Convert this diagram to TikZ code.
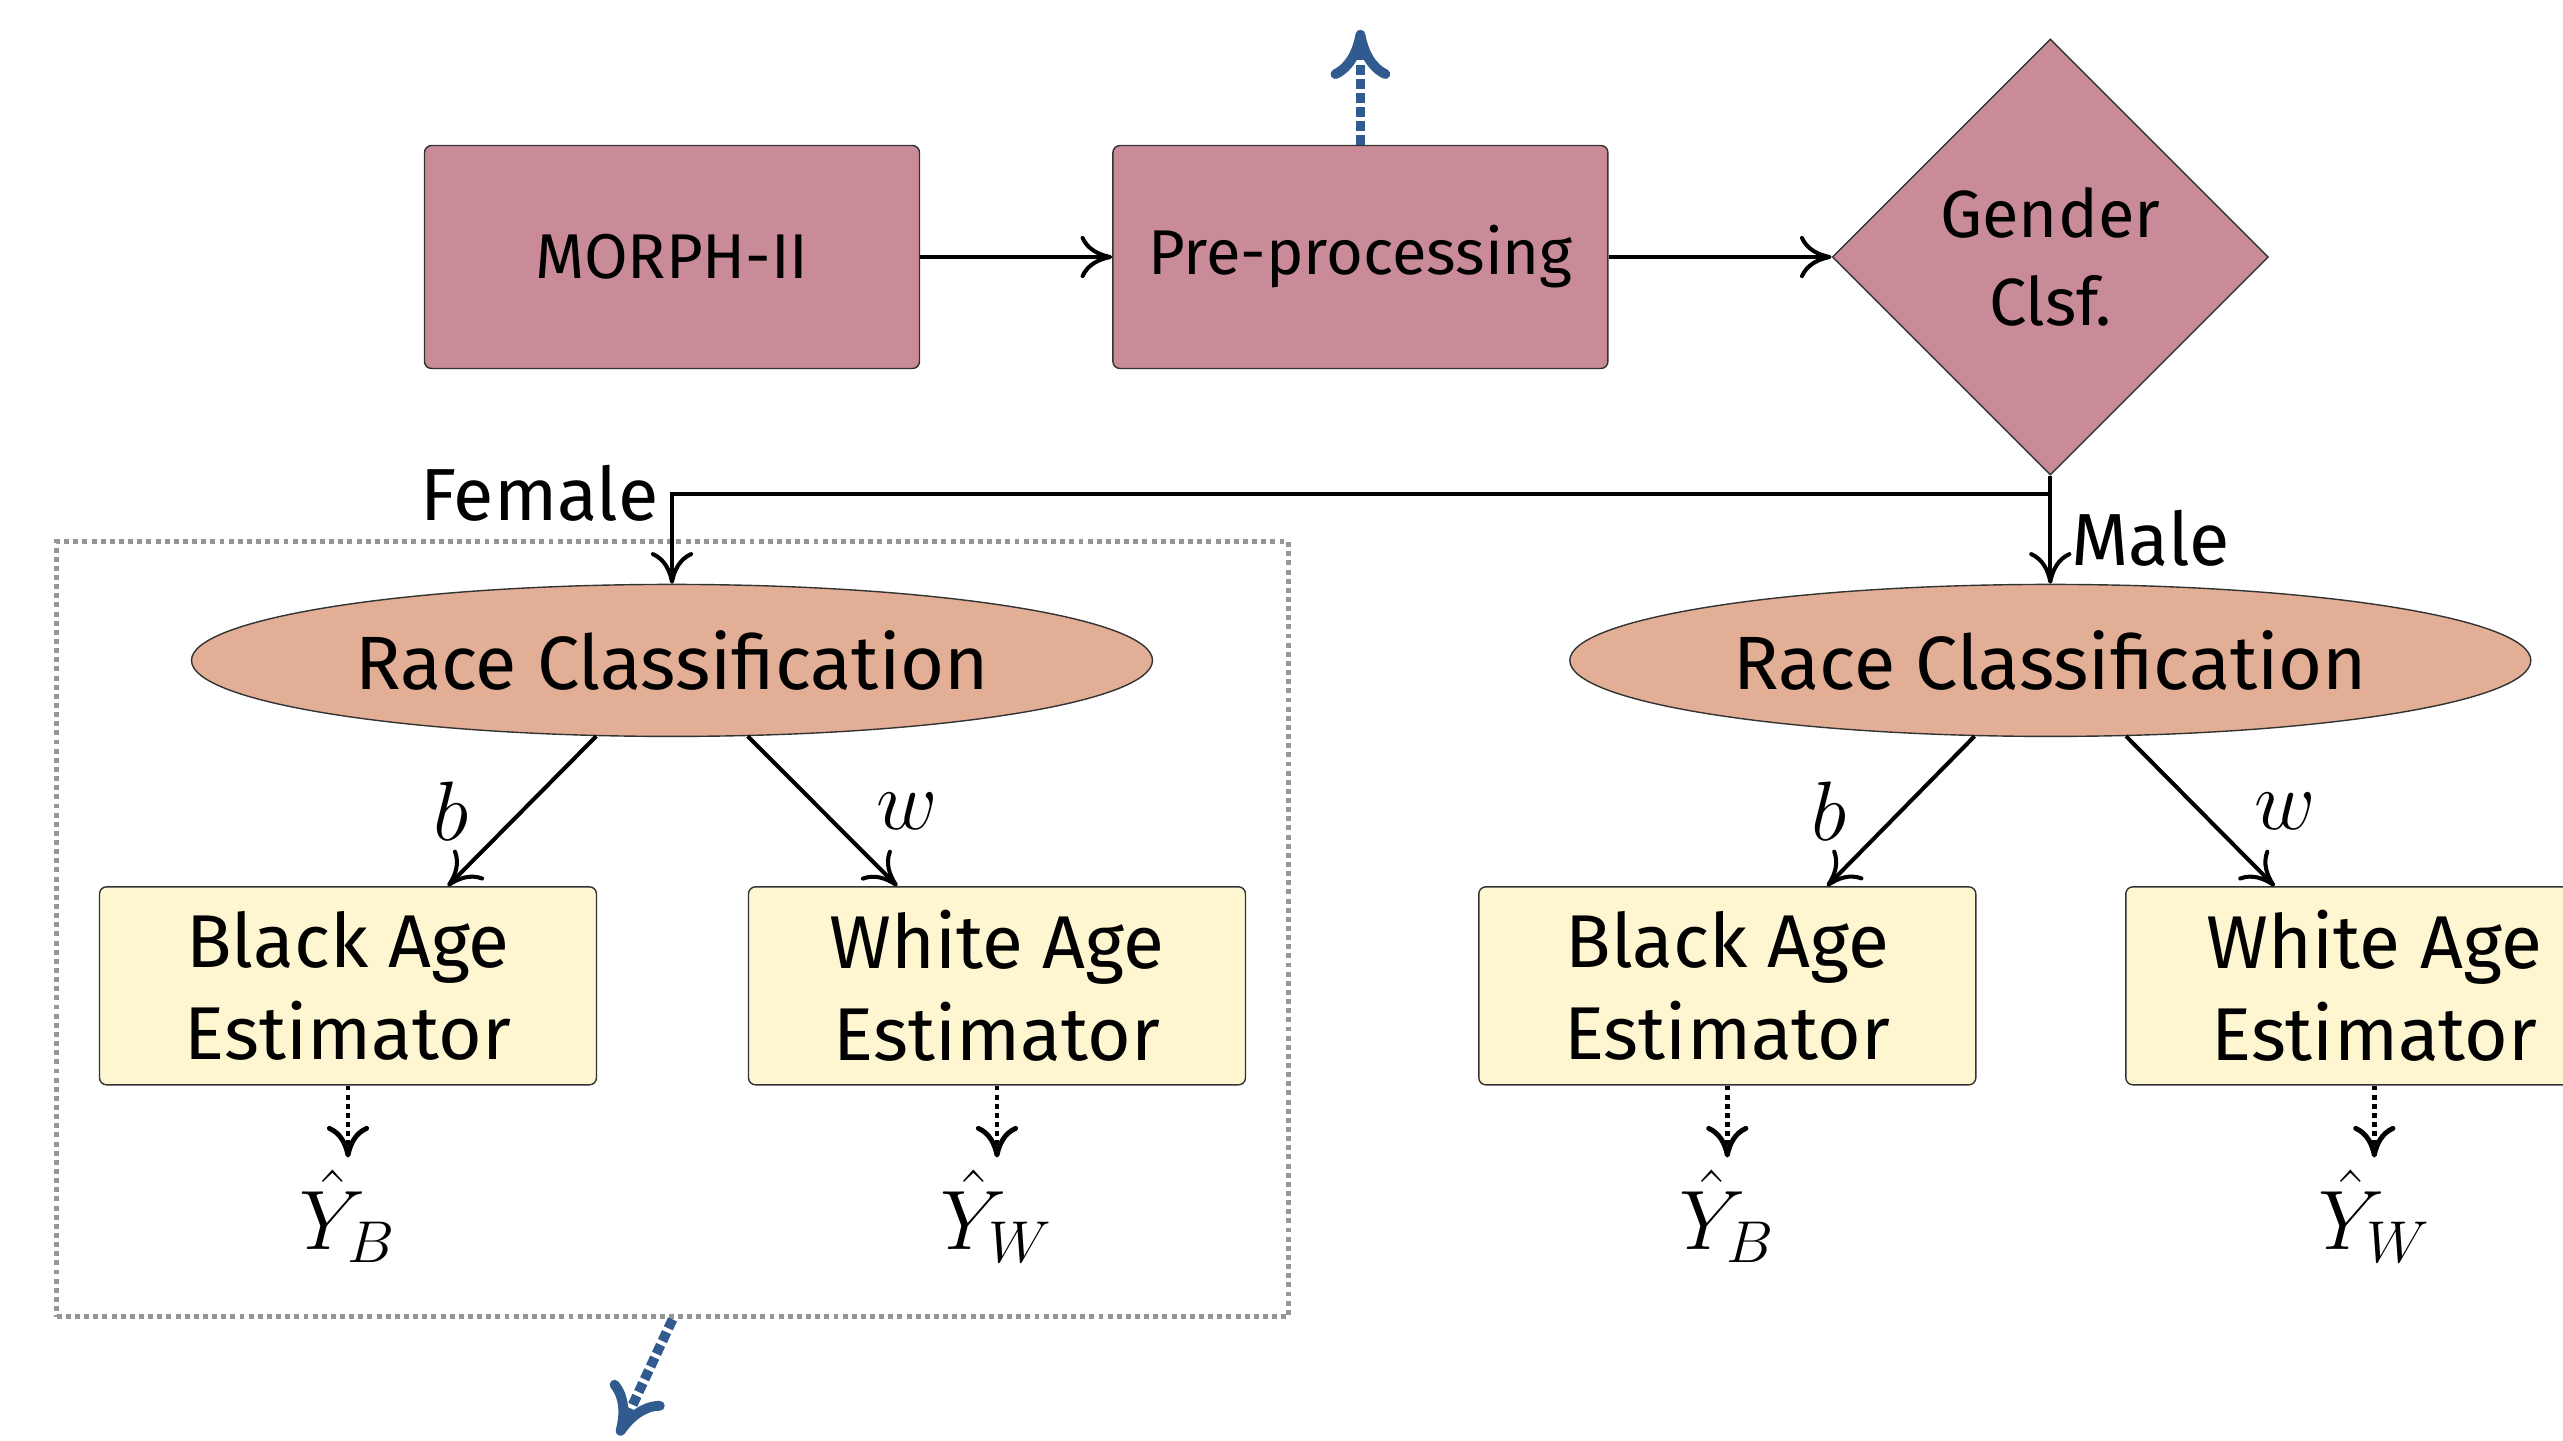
\documentclass[tikz,border=0pt]{standalone}
\usepackage{fix-cm}
\usepackage{fontspec}
\setmainfont{Fira Sans}
\usepackage{xcolor}
\usetikzlibrary{calc}
\usetikzlibrary{positioning}
\usetikzlibrary{arrows.meta}
\usetikzlibrary{shapes}
\usetikzlibrary{fit}
\definecolor{boxpink}{RGB}{201,139,151}
\definecolor{racesalmon}{RGB}{226,175,150}
\definecolor{estyellow}{RGB}{254,246,208}
\definecolor{linkblue}{RGB}{49,91,143}
\definecolor{framegray}{RGB}{150,150,150}

\begin{document}
\begin{tikzpicture}[
      data style/.style={rectangle,draw=black!80,fill=boxpink,rounded
        corners=2pt,minimum width=4.95cm,minimum height=2.23cm,
        font=\fontsize{18}{22}\selectfont},
      gender style/.style={diamond,draw=black!80,fill=boxpink,aspect=1,
        minimum size=4.36cm,inner sep=0pt,align=center,
        font=\fontsize{19}{25}\selectfont},
      race style/.style={ellipse,draw=black!80,fill=racesalmon,
        minimum width=9.61cm,minimum height=1.52cm,inner sep=0pt,
        font=\fontsize{21.5}{26}\selectfont},
      est style/.style={rectangle,draw=black!80,fill=estyellow,rounded
        corners=2pt,minimum width=4.97cm,minimum height=1.98cm,align=center,
        font=\fontsize{21.3}{26}\selectfont},
      out style/.style={font=\fontsize{24}{28}\selectfont},
      branch style/.style={font=\fontsize{21}{25}\selectfont},
      flow/.style={-{Computer Modern Rightarrow[round,length=9pt,width=12pt]},
        line width=1.15pt},
      result/.style={-{Computer Modern Rightarrow[round,length=9pt,width=12pt]},
        line width=1.4pt,dash pattern=on 1.4pt off 1.2pt},
      blue link/.style={-{Computer Modern Rightarrow[round,length=14pt,width=17pt]},
        draw=linkblue,line width=2.8pt,dash pattern=on 2.8pt off 1.2pt},
      frame style/.style={draw=framegray,line width=1.4pt,
        dash pattern=on 1.4pt off 1.2pt,inner sep=0.42cm}
      ]
      \useasboundingbox (0,0) rectangle (25.63,-14.40);
      \node[data style] (morph) at (6.72,-2.57) {MORPH-II};
      \node[data style,right=1.92cm of morph] (pre) {Pre-processing};
      \node[gender style,right=2.23cm of pre] (gender) {Gender\\Clsf.};
      \node[race style,below=1.08cm of gender] (raceM) {Race Classification};
      \node[race style] (raceF) at (morph |- raceM) {Race Classification};
      \node[est style,below=1.49cm of raceF,xshift=-3.24cm] (blackF) {Black Age\\Estimator};
      \node[est style,below=1.49cm of raceF,xshift=3.25cm] (whiteF) {White Age\\Estimator};
      \node[est style,below=1.49cm of raceM,xshift=-3.23cm] (blackM) {Black Age\\Estimator};
      \node[est style,below=1.49cm of raceM,xshift=3.24cm] (whiteM) {White Age\\Estimator};
      \node[out style,below=0.72cm of blackF] (yBF) {$\hat{Y}_B$};
      \node[out style,below=0.72cm of whiteF] (yWF) {$\hat{Y}_W$};
      \node[out style,below=0.72cm of blackM] (yBM) {$\hat{Y}_B$};
      \node[out style,below=0.72cm of whiteM] (yWM) {$\hat{Y}_W$};
      \node[frame style,fit=(raceF)(blackF)(whiteF)(yBF)(yWF)] (femalebox) {};
      \coordinate[below=0.18cm of gender.south] (split);
      \coordinate[above=1.15cm of pre.north] (preout);
      \coordinate (femaleout) at ($(femalebox.south)+(-0.54,-1.16)$);
      \draw[flow] (morph) -- (pre);
      \draw[flow] (pre) -- (gender);
      \draw[flow] (gender.south) -- (split) -- node[branch style,right=2pt] {Male} (raceM.north);
      \draw[flow] (split) -| node[branch style,pos=0.5,left] {Female} (raceF.north);
      \foreach \race in {F,M} {
        \draw[flow] (race\race.225) -- node[out style,left=0.4cm] {$b$} (black\race.45);
        \draw[flow] (race\race.315) -- node[out style,right=0.4cm] {$w$} (white\race.135);
        \draw[result] (black\race.south) -- (yB\race);
        \draw[result] (white\race.south) -- (yW\race);
      }
      \draw[blue link] (pre.north) -- (preout);
      \draw[blue link] (femalebox.south) -- (femaleout);
    \end{tikzpicture}
\end{document}
